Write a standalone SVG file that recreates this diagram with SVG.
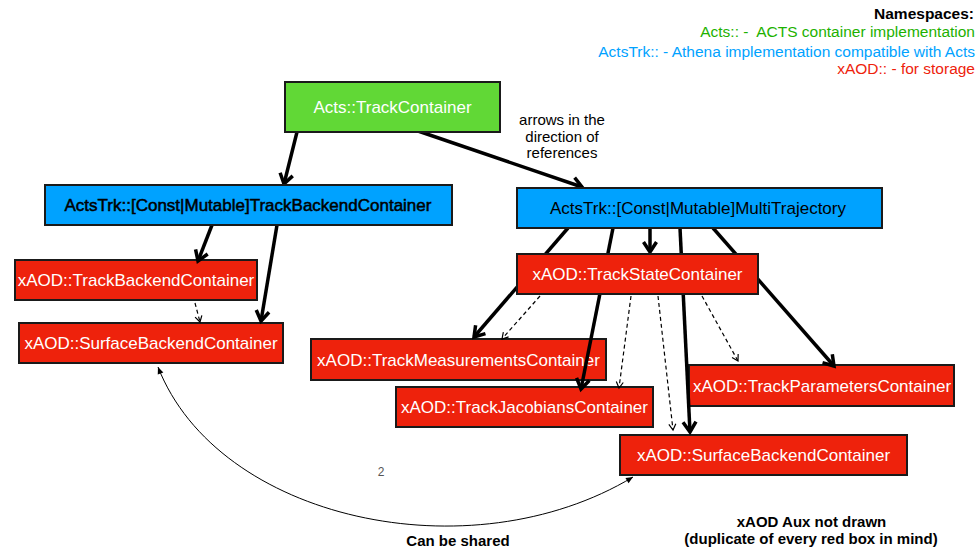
<svg xmlns="http://www.w3.org/2000/svg" width="980" height="548" viewBox="0 0 980 548">
<defs>
<style>
text{font-family:"Liberation Sans",Arial,Helvetica,sans-serif}
.box{stroke:#1a1a1a;stroke-width:2}
.g{fill:#61D836}
.b{fill:#00A2FF}
.r{fill:#EE220C}
.wt{fill:#fff;font-size:17px;text-anchor:middle}
.bt{fill:#000;font-size:17px;text-anchor:middle}
.thick{fill:none;stroke:#000;stroke-width:3.5;marker-end:url(#ah)}
.dash{fill:none;stroke:#000;stroke-width:1.2;stroke-dasharray:4 3;marker-end:url(#ahs)}
.leg{font-size:15.5px;text-anchor:end}
.note{font-size:15px;text-anchor:middle;fill:#000}
</style>
<marker id="ah" viewBox="-12 -8 14 16" refX="0" refY="0" markerWidth="14" markerHeight="16" markerUnits="userSpaceOnUse" orient="auto" overflow="visible">
<path d="M-10,-6.5 L0,0 L-10,6.5" fill="none" stroke="#000" stroke-width="3.5"/>
</marker>
<marker id="ahs" viewBox="-8 -5 9 10" refX="0" refY="0" markerWidth="9" markerHeight="10" markerUnits="userSpaceOnUse" orient="auto" overflow="visible">
<path d="M-6,-3.5 L0,0 L-6,3.5" fill="none" stroke="#000" stroke-width="1.2"/>
</marker>
<marker id="ahf" viewBox="-8 -4 9 8" refX="0" refY="0" markerWidth="9" markerHeight="8" markerUnits="userSpaceOnUse" orient="auto-start-reverse" overflow="visible">
<path d="M-7,-3 L0,0 L-7,3 Z" fill="#000"/>
</marker>
</defs>
<rect width="980" height="548" fill="#fff"/>

<g id="legend">
<text class="leg" x="974" y="19" font-weight="bold" fill="#000">Namespaces:</text>
<text class="leg" x="975" y="37" fill="#1DB100" xml:space="preserve">Acts:: -  ACTS container implementation</text>
<text class="leg" x="975" y="56.5" fill="#00A2FF">ActsTrk:: - Athena implementation compatible with Acts</text>
<text class="leg" x="975" y="74" fill="#EE220C">xAOD:: - for storage</text>
</g>

<g id="TrackMeasurementsContainer">
<rect class="box r" x="311" y="339" width="295" height="41"/>
<text class="wt" x="458.5" y="365.5">xAOD::TrackMeasurementsContainer</text>
</g>
<g id="TrackJacobiansContainer">
<rect class="box r" x="396" y="387" width="257" height="40"/>
<text class="wt" x="524.5" y="413">xAOD::TrackJacobiansContainer</text>
</g>
<g id="TrackParametersContainer">
<rect class="box r" x="689" y="365" width="265" height="41"/>
<text class="wt" x="822" y="391.5">xAOD::TrackParametersContainer</text>
</g>
<g id="SurfaceBackendContainerRight">
<rect class="box r" x="620" y="435" width="287" height="40"/>
<text class="wt" x="763.5" y="461">xAOD::SurfaceBackendContainer</text>
</g>
<g id="TrackBackendContainerXAOD">
<rect class="box r" x="15" y="260" width="242" height="40"/>
<text class="wt" x="136" y="286">xAOD::TrackBackendContainer</text>
</g>
<g id="SurfaceBackendContainerLeft">
<rect class="box r" x="19" y="323" width="264" height="40"/>
<text class="wt" x="151" y="349">xAOD::SurfaceBackendContainer</text>
</g>

<g id="connectors">
<path class="thick" d="M297,132 L284,184"/>
<path class="thick" d="M418,131 L582,187"/>
<path class="thick" d="M212,225 L198,261"/>
<path class="thick" d="M277,225 L261,321"/>
<path class="dash" d="M195,303 L200,322"/>
<path class="thick" d="M568,228 L474,337"/>
<path class="thick" d="M613,228 L581,389"/>
<path class="thick" d="M650,228 L650,252"/>
<path class="thick" d="M680,228 L690,432"/>
<path class="thick" d="M713,228 L834,366"/>
<path class="dash" d="M540,296 L502,339"/>
<path class="dash" d="M631,296 L619,388"/>
<path class="dash" d="M658,296 L673,430"/>
<path class="dash" d="M702,296 L738,361"/>
<path d="M158,367 C218,520 470,575 633,477" fill="none" stroke="#000" stroke-width="1" marker-start="url(#ahf)" marker-end="url(#ahf)"/>
</g>

<g id="TrackContainer">
<rect class="box g" x="285" y="82" width="215" height="50"/>
<text class="wt" x="392.5" y="113">Acts::TrackContainer</text>
</g>
<g id="TrackBackendContainer">
<rect class="box b" x="45" y="185" width="407" height="40"/>
<text class="bt" x="248" y="211" stroke="#000" stroke-width="0.5">ActsTrk::[Const|Mutable]TrackBackendContainer</text>
</g>
<g id="MultiTrajectory">
<rect class="box b" x="517" y="188" width="365" height="40"/>
<text class="bt" x="698" y="214">ActsTrk::[Const|Mutable]MultiTrajectory</text>
</g>
<g id="TrackStateContainer">
<rect class="box r" x="517" y="254" width="241" height="40"/>
<text class="wt" x="637.5" y="280">xAOD::TrackStateContainer</text>
</g>

<g id="labels">
<text class="note" x="562" y="125">arrows in the</text>
<text class="note" x="562" y="142">direction of</text>
<text class="note" x="562" y="158">references</text>
<text x="381" y="475.5" font-size="12" fill="#555" text-anchor="middle">2</text>
<text class="note" x="458" y="546" font-weight="bold">Can be shared</text>
<text class="note" x="811.5" y="527" font-weight="bold">xAOD Aux not drawn</text>
<text class="note" x="811" y="543.5" font-weight="bold">(duplicate of every red box in mind)</text>
</g>
</svg>
